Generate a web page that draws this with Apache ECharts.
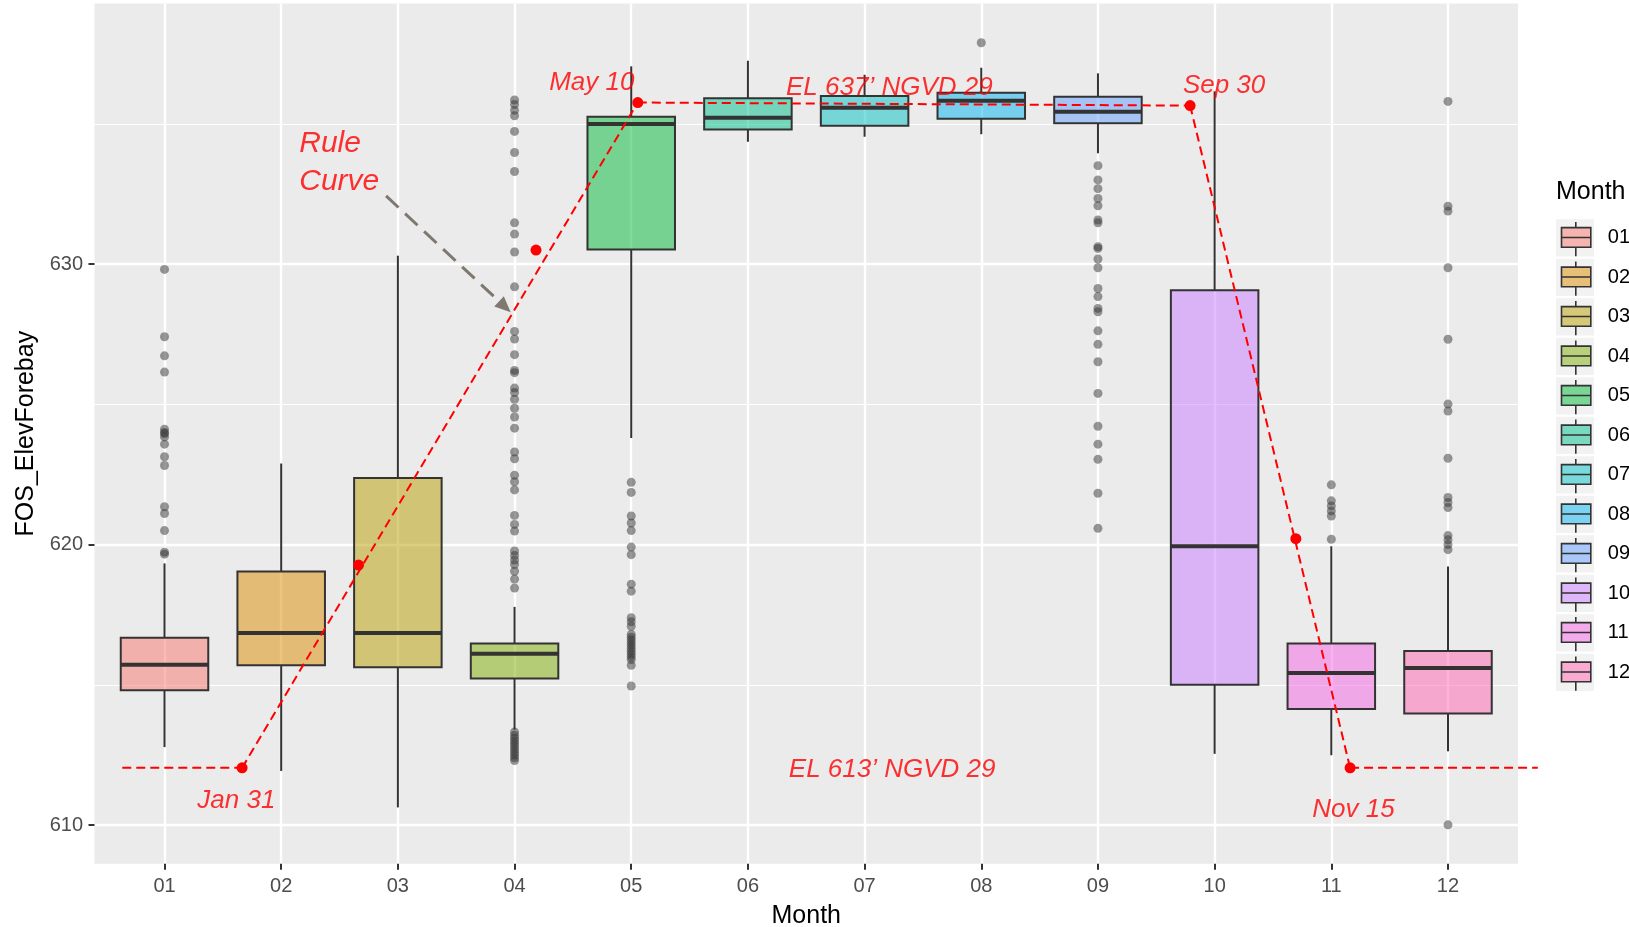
<!DOCTYPE html>
<html>
<head>
<meta charset="utf-8">
<title>FOS_ElevForebay by Month</title>
<script src="https://cdn.jsdelivr.net/npm/echarts@6/dist/echarts.min.js"></script>
<style>
  html, body { margin: 0; padding: 0; background: #fff; }
  #chart { width: 1629px; height: 927px; }
</style>
</head>
<body>
<div id="chart"></div>
<script>
// categories (x axis) and tick labels
const months = ['01', '02', '03', '04', '05', '06', '07', '08', '09', '10', '11', '12'];
const yMajorTicks = [610, 620, 630];
const yMinorTicks = [615, 625, 635];

// box statistics per month
const whiskerLow  = [612.78, 611.93, 610.63, 613.40, 623.80, 634.36, 634.54, 634.63, 633.95, 612.54, 612.49, 612.63];
const q1          = [614.81, 615.70, 615.63, 615.23, 630.52, 634.80, 634.93, 635.18, 635.02, 615.00, 614.14, 613.98];
const median      = [615.72, 616.85, 616.85, 616.11, 634.99, 635.22, 635.57, 635.82, 635.43, 619.94, 615.42, 615.60];
const q3          = [616.68, 619.04, 622.37, 616.47, 635.25, 635.91, 635.99, 636.11, 635.97, 629.07, 616.47, 616.21];
const whiskerHigh = [619.33, 622.89, 630.30, 617.78, 637.05, 637.25, 636.75, 637.00, 636.80, 636.16, 619.94, 619.22];

// outliers per month
const outliers01 = [629.81, 627.41, 626.73, 626.15, 624.11, 624.00, 623.95, 623.84, 623.58, 623.13, 622.82, 621.35, 621.11, 620.50, 619.73, 619.66];
const outliers02 = [];
const outliers03 = [];
const outliers04 = [635.85, 635.69, 635.48, 635.29, 634.73, 633.98, 633.30, 631.47, 631.07, 630.43, 629.19, 627.60, 627.33, 626.77,
                    626.21, 626.13, 625.58, 625.42, 625.18, 624.86, 624.55, 624.15, 623.30, 623.06, 622.47, 622.24, 621.95, 621.04,
                    620.72, 620.48, 619.77, 619.61, 619.45, 619.29, 619.05, 618.77, 618.45,
                    613.32, 613.20, 613.10, 613.00, 612.90, 612.80, 612.70, 612.60, 612.50, 612.40, 612.30];
const outliers05 = [622.22, 621.86, 621.02, 620.77, 620.50, 619.91, 619.64, 618.59, 618.34, 617.39, 617.25, 617.09,
                    616.80, 616.70, 616.60, 616.50, 616.40, 616.30, 616.20, 616.10, 616.00, 615.90, 615.70, 614.96];
const outliers06 = [];
const outliers07 = [];
const outliers08 = [637.89];
const outliers09 = [633.51, 633.00, 632.69, 632.34, 632.08, 631.57, 631.47, 630.62, 630.56, 630.18, 629.87, 629.13, 628.84,
                    628.42, 628.30, 627.62, 627.14, 626.52, 625.39, 624.22, 623.58, 623.04, 621.83, 620.58];
const outliers10 = [];
const outliers11 = [622.13, 621.56, 621.38, 621.20, 621.02, 620.19];
const outliers12 = [635.80, 632.06, 631.89, 629.87, 627.32, 625.01, 624.76, 623.08, 621.68, 621.50, 621.32, 620.32, 620.17,
                    620.00, 619.82, 610.01];
const outliers = [outliers01, outliers02, outliers03, outliers04, outliers05, outliers06,
                  outliers07, outliers08, outliers09, outliers10, outliers11, outliers12];

// rule curve (x in month units)
const ruleLineX = [0.638, 1.665, 5.056, 9.790, 11.161, 12.77];
const ruleLineY = [612.04, 612.04, 635.76, 635.65, 612.04, 612.04];
const rulePointX = [1.665, 2.663, 4.184, 5.056, 9.790, 10.696, 11.161];
const rulePointY = [612.04, 619.27, 630.50, 635.76, 635.65, 620.21, 612.04];

// annotations
const noteText = ['May 10', 'EL 637\u2019 NGVD 29', 'Sep 30', 'Jan 31', 'EL 613\u2019 NGVD 29', 'Nov 15'];
const noteX = [4.662, 7.212, 10.081, 1.616, 7.236, 11.19];
const noteY = [636.45, 636.29, 636.37, 610.86, 611.97, 610.56];
const ruleNote = 'Rule\nCurve';
const ruleNoteX = 2.155;
const ruleNoteY = 633.61;
const arrowFrom = [2.899, 632.43];
const arrowTo = [3.917, 628.48];

const FONT = "'Liberation Sans', Arial, sans-serif";
// ggplot hue palette, drawn at alpha 0.5
const hues = ['#F8766D', '#DE8C00', '#B79F00', '#7CAE00', '#00BA38', '#00C08B',
              '#00BFC4', '#00B4F0', '#619CFF', '#C77CFF', '#F564E3', '#FF64B0'];
function halfAlpha(hex) {
    const n = parseInt(hex.slice(1), 16);
    return 'rgba(' + (n >> 16) + ',' + ((n >> 8) & 255) + ',' + (n & 255) + ',0.5)';
}
const fills = hues.map(halfAlpha);
const monthPos = months.map((m, i) => i + 1);

const boxData = months.map((m, i) => [i + 1, whiskerLow[i], q1[i], median[i], q3[i], whiskerHigh[i]]);

function renderBox(params, api) {
    const x = api.value(0);
    const lo = api.coord([x, api.value(1)]);
    const b1 = api.coord([x, api.value(2)]);
    const md = api.coord([x, api.value(3)]);
    const b3 = api.coord([x, api.value(4)]);
    const hi = api.coord([x, api.value(5)]);
    const half = api.size([1, 0])[0] * 0.75 / 2;
    const edge = { stroke: '#333333', lineWidth: 2 };
    return {
        type: 'group',
        children: [
            { type: 'line', shape: { x1: lo[0], y1: lo[1], x2: b1[0], y2: b1[1] }, style: edge },
            { type: 'line', shape: { x1: b3[0], y1: b3[1], x2: hi[0], y2: hi[1] }, style: edge },
            { type: 'rect', shape: { x: b3[0] - half, y: b3[1], width: half * 2, height: b1[1] - b3[1] },
              style: { fill: fills[x - 1], stroke: '#333333', lineWidth: 2 } },
            { type: 'line', shape: { x1: md[0] - half, y1: md[1], x2: md[0] + half, y2: md[1] },
              style: { stroke: '#333333', lineWidth: 4 } }
        ]
    };
}

// rule curve segments, drawn unclipped so the ends can run past the panel
const ruleSegments = ruleLineX.slice(1).map((x, i) => [ruleLineX[i], ruleLineY[i], x, ruleLineY[i + 1]]);
function renderSegment(params, api) {
    const a = api.coord([api.value(0), api.value(1)]);
    const b = api.coord([api.value(2), api.value(3)]);
    return {
        type: 'line',
        shape: { x1: a[0], y1: a[1], x2: b[0], y2: b[1] },
        style: { stroke: '#FF0000', lineWidth: 2, lineDash: [9, 5] }
    };
}

// legend key glyph (box + whiskers), corners fix the key size
const boxIcon = 'path://M0,0M38,37.3M19,2.7L19,8.3M4.7,8.3L34,8.3L34,28L4.7,28ZM4.7,18.2L34,18.2M19,28L19,37';
const legendTop = 218.5, keyH = 37.3, keyPitch = 39.5;

const series = [{
    type: 'custom',
    name: 'boxes',
    renderItem: renderBox,
    data: boxData,
    encode: { x: 0, y: [1, 2, 3, 4, 5] },
    z: 2
}];

months.forEach((m, i) => {
    series.push({
        type: 'scatter',
        name: m,
        data: outliers[i].map(v => [i + 1, v]),
        symbolSize: 9,
        itemStyle: { color: 'rgba(51,51,51,0.5)', opacity: 1 },
        z: 3
    });
});

series.push({
    type: 'custom',
    name: 'rule',
    renderItem: renderSegment,
    data: ruleSegments,
    encode: { x: [0, 2], y: [1, 3] },
    clip: false,
    z: 4
});

series.push({
    type: 'scatter',
    name: 'rule points',
    data: rulePointX.map((x, i) => [x, rulePointY[i]]),
    symbolSize: 11,
    clip: false,
    itemStyle: { color: '#FF0000', opacity: 1 },
    markLine: {
        silent: true,
        symbol: ['none', 'triangle'],
        symbolSize: [14, 16],
        label: { show: false },
        lineStyle: { color: '#7F786F', width: 3, type: [17, 9] },
        data: [[{ coord: arrowFrom }, { coord: arrowTo }]]
    },
    z: 5
});

const noteLabel = {
    show: true, position: 'inside', formatter: p => p.name,
    color: '#FF0000', fontStyle: 'italic', fontFamily: FONT, fontSize: 26,
    align: 'center', verticalAlign: 'middle'
};
const notes = noteText.map((t, i) => ({ name: t, value: [noteX[i], noteY[i]] }));
notes.push({ name: ruleNote, value: [ruleNoteX, ruleNoteY],
             label: { fontSize: 30, lineHeight: 37.7, align: 'left' } });
series.push({
    type: 'scatter',
    name: 'notes',
    data: notes,
    symbolSize: 1,
    clip: false,
    itemStyle: { color: 'rgba(0,0,0,0)' },
    label: noteLabel,
    z: 6
});

const chart = echarts.init(document.getElementById('chart'));
chart.setOption({
    animation: false,
    backgroundColor: '#FFFFFF',
    title: {
        text: 'Month', left: 1556, top: 180, padding: 0,
        textStyle: { fontSize: 25, fontWeight: 'normal', color: '#000000', fontFamily: FONT }
    },
    legend: {
        orient: 'vertical', left: 1556, top: legendTop, padding: 0,
        // the stroke adds 1.6px to each item's height
        itemWidth: 38, itemHeight: keyH, itemGap: keyPitch - keyH - 1.6,
        selectedMode: false,
        textStyle: { fontSize: 20, color: '#000000', fontFamily: FONT, padding: [0, 0, 0, 8] },
        data: months.map((m, i) => ({
            name: m, icon: boxIcon,
            itemStyle: { color: fills[i], borderColor: '#333333', borderWidth: 1.6, opacity: 1 }
        }))
    },
    graphic: months.map((m, i) => ({
        type: 'rect', left: 1556, top: legendTop + 0.8 + i * keyPitch, z: 0,
        shape: { width: 38, height: keyH }, style: { fill: '#F2F2F2' }
    })),
    grid: {
        left: 94.5, top: 3.5, width: 1423.5, height: 860.3,
        show: true, backgroundColor: '#EBEBEB', borderWidth: 0,
        containLabel: false, outerBoundsMode: 'none'
    },
    xAxis: {
        type: 'value', min: 0.4, max: 12.6,
        name: 'Month', nameLocation: 'middle', nameGap: 40,
        nameTextStyle: { fontSize: 25, color: '#000000', fontFamily: FONT },
        axisLine: { show: false },
        axisTick: { show: true, length: 6, customValues: monthPos, lineStyle: { color: '#333333', width: 2 } },
        axisLabel: { customValues: monthPos, formatter: v => months[Math.round(v) - 1], margin: 13,
                     fontSize: 20, color: '#4D4D4D', fontFamily: FONT },
        splitLine: { show: true, lineStyle: { color: '#FFFFFF', width: 2.4 } }
    },
    yAxis: [{
        type: 'value', min: 608.62, max: 639.29,
        name: 'FOS_ElevForebay', nameLocation: 'middle', nameGap: 45,
        nameTextStyle: { fontSize: 25, color: '#000000', fontFamily: FONT },
        axisLine: { show: false },
        axisTick: { show: true, length: 6, customValues: yMajorTicks, lineStyle: { color: '#333333', width: 2 } },
        axisLabel: { customValues: yMajorTicks, margin: 11.5, fontSize: 20, color: '#4D4D4D', fontFamily: FONT },
        splitLine: { show: true, lineStyle: { color: '#FFFFFF', width: 2.4 } }
    }, {
        // minor grid lines only
        type: 'value', min: 608.62, max: 639.29, position: 'left',
        axisLine: { show: false },
        axisTick: { show: false, customValues: yMinorTicks },
        axisLabel: { show: false, customValues: yMinorTicks },
        splitLine: { show: true, lineStyle: { color: '#FFFFFF', width: 1.2 } }
    }],
    series: series
});
</script>
</body>
</html>
